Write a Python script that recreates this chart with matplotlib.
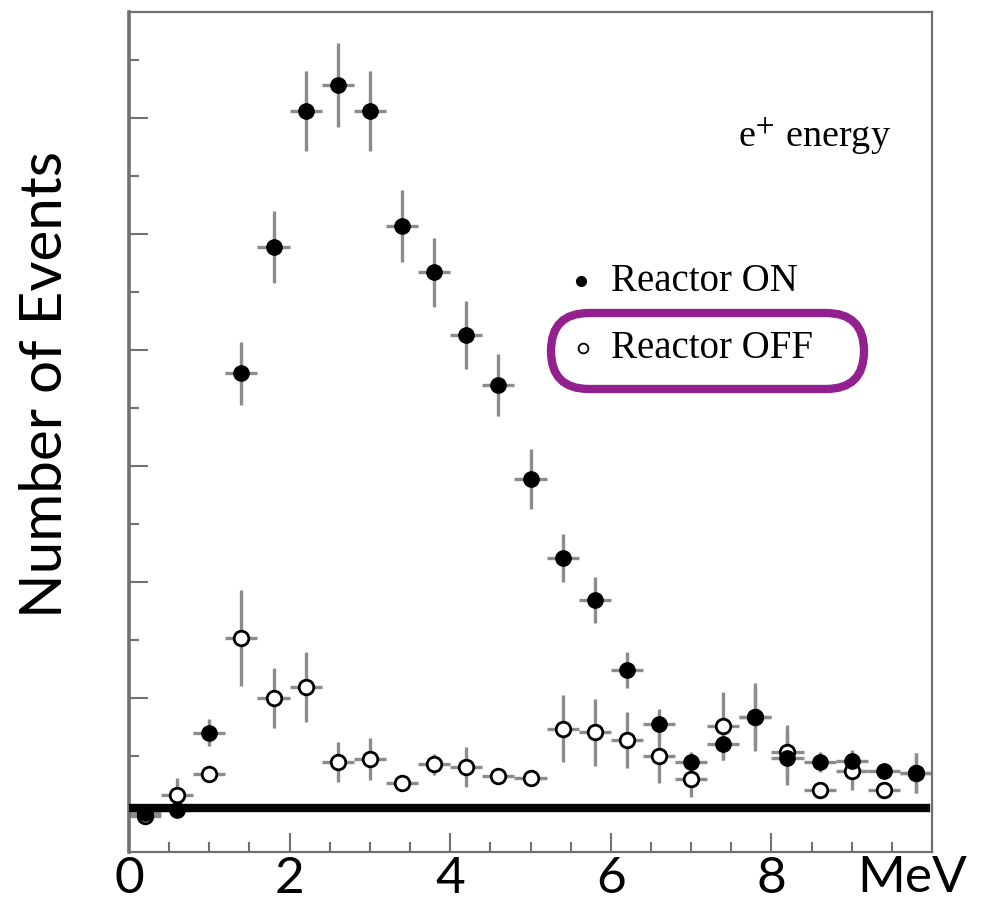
import numpy as np
import matplotlib.pyplot as plt
from matplotlib.patches import FancyBboxPatch
from matplotlib.ticker import MultipleLocator

plt.rcParams['mathtext.fontset'] = 'stix'

# bin centres (MeV), 0.4 MeV wide bins
energy = np.arange(0.2, 10.0, 0.4)
half_bin = 0.2

# Reactor ON counts and errors
on_counts = [0.2, 0.7, 14.0, 76.0, 97.8, 121.2, 125.7, 121.2, 101.4, 93.4,
             82.6, 74.0, 57.8, 44.1, 36.9, 24.8, 15.5, 9.0, 12.1, 16.7,
             9.7, 9.0, 9.1, 7.4, 7.1]
on_err = [0.6, 1.0, 2.3, 5.4, 6.2, 6.9, 7.2, 6.9, 6.2, 6.0,
          5.9, 5.4, 5.2, 4.1, 3.9, 3.1, 2.6, 1.7, 2.8, 5.9,
          4.7, 1.7, 1.9, 1.4, 3.4]

# Reactor OFF counts and errors
off_counts = [-0.3, 3.3, 6.9, 30.3, 20.0, 21.9, 9.0, 9.5, 5.3, 8.6,
              8.1, 6.6, 6.2, 14.7, 14.1, 12.8, 10.0, 6.0, 15.2, 16.7,
              10.7, 4.1, 7.4, 4.1, 7.1]
off_err = [0.6, 2.9, 1.4, 8.3, 5.2, 6.1, 3.5, 3.6, 1.0, 1.8,
           3.4, 1.0, 1.0, 5.8, 5.8, 4.8, 4.7, 3.1, 5.9, 5.0,
           4.7, 1.0, 3.3, 1.0, 3.4]

W, H = 1003, 907
fig = plt.figure(figsize=(W / 100, H / 100), dpi=100)
ax = fig.add_axes([129 / W, 1 - 852 / H, (932 - 129) / W, (852 - 12) / H])

ax.set_xlim(0, 10)
ax.set_ylim(-6.55, 138.3)

err_kw = dict(fmt='none', ecolor='#8c8c8c', elinewidth=2.4, capsize=0, zorder=2)
ax.errorbar(energy, off_counts, xerr=half_bin, yerr=off_err, **err_kw)
ax.errorbar(energy, on_counts, xerr=half_bin, yerr=on_err, **err_kw)
ax.plot(energy, off_counts, 'o', ms=10.5, mfc='white', mec='black', mew=2.0, zorder=3)
ax.plot(energy, on_counts, 'o', ms=11, mfc='black', mec='black', zorder=4)

# thick baseline
ax.axhline(1.0, xmin=0.005, xmax=0.993, color='black', lw=6, zorder=5)

# axes styling
for s in ax.spines.values():
    s.set_color('#707070')
    s.set_linewidth(1.6)
ax.spines['left'].set_linewidth(2.6)

ax.xaxis.set_major_locator(MultipleLocator(2))
ax.xaxis.set_minor_locator(MultipleLocator(0.5))
ax.yaxis.set_major_locator(MultipleLocator(20))
ax.yaxis.set_minor_locator(MultipleLocator(10))
ax.tick_params(which='both', direction='in', colors='#707070', width=1.5)
ax.tick_params(which='major', length=14)
ax.tick_params(which='minor', length=7)
ax.tick_params(axis='y', labelleft=False)
ax.tick_params(axis='x', which='major', labelcolor='black', labelsize=37, pad=3)
ax.set_xticks([0, 2, 4, 6, 8])
for lab in ax.get_xticklabels():
    lab.set_fontfamily('Lato')

ax.text(9.75, -0.004, 'MeV', transform=ax.get_xaxis_transform(), ha='center',
        va='top', fontsize=37, family='Lato', color='black')

fig.text(46 / W, 1 - 384 / H, 'Number of Events', rotation=90, ha='center',
         va='center', fontsize=42, family='Lato')

# labels inside the plot
ax.text(738 / W, 1 - 136 / H, r'e$^{+}$ energy', transform=fig.transFigure,
        fontsize=27.5, family='Liberation Serif', va='center', ha='left')

ax.plot([581 / W], [1 - 281 / H], 'o', ms=7, mfc='black', mec='black',
        transform=fig.transFigure)
ax.text(611 / W, 1 - 282 / H, 'Reactor ON', transform=fig.transFigure,
        fontsize=28, family='Liberation Serif', va='center', ha='left')
ax.plot([583 / W], [1 - 348 / H], 'o', ms=7, mfc='white', mec='black', mew=1.3,
        transform=fig.transFigure)
ax.text(611 / W, 1 - 349 / H, 'Reactor OFF', transform=fig.transFigure,
        fontsize=28, family='Liberation Serif', va='center', ha='left')

# purple highlight round the OFF entry (in inches so the ends stay round)
box = FancyBboxPatch((5.51, (H - 389) / 100), 3.13, 0.76,
                     boxstyle='round,pad=0,rounding_size=0.38',
                     transform=fig.dpi_scale_trans, fill=False,
                     edgecolor='#93208f', lw=6)
fig.patches.append(box)

fig.savefig('out.png', dpi=100)
